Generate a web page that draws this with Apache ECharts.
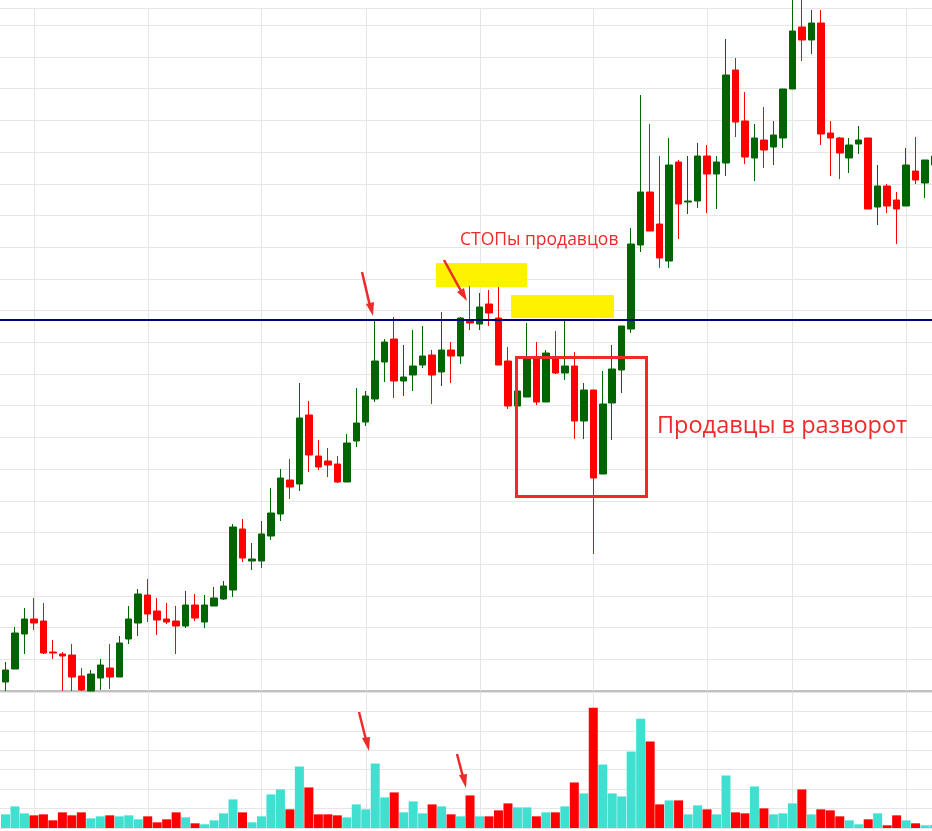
<!DOCTYPE html>
<html><head><meta charset="utf-8">
<script src="https://cdn.jsdelivr.net/npm/echarts@6/dist/echarts.min.js"></script>
<style>html,body{margin:0;padding:0;background:#fff}#c{width:932px;height:831px}</style>
</head><body><div id="c"></div>
<script>
// OHLC values (price units)
const opens  = [17,30,65,80,78,47,45,44,23,8,21,31,22,60,76,104,88,80,78,73,94,77,93,100,109,170,138,138,163,185,219,215,284,243,238,235,217,258,277,300,337,360,318,324,334,344,327,349,343,379,375,395,381,338,293,302,341,297,342,326,333,278,309,225,296,329,370,454,507,475,438,537,497,498,543,525,536,629,578,541,559,552,561,610,672,659,676,566,561,541,555,561,492,513,499,493,528,516,534];
const closes = [29,66,80,76,46,46,43,22,9,25,34,22,56,80,105,85,79,77,73,94,81,94,101,113,172,141,140,165,186,221,212,281,244,232,234,217,256,276,303,338,357,318,322,333,343,324,349,343,381,376,392,386,334,293,308,341,297,346,326,333,278,309,221,295,330,373,455,507,468,441,534,495,498,543,525,537,624,577,542,561,549,564,610,668,659,676,565,561,546,554,559,490,513,493,490,534,519,539,543];
const lows   = [8,30,45,69,45,40,8,8,8,8,9,10,22,55,63,77,64,75,45,71,78,71,93,99,102,137,129,131,159,178,200,208,227,229,222,216,217,252,273,297,317,301,303,308,331,295,313,316,335,369,369,373,334,290,293,302,294,297,325,319,260,260,145,225,259,306,366,447,468,431,431,460,485,491,486,490,523,562,535,518,531,534,551,610,638,645,554,523,520,526,545,490,474,486,455,493,515,501,530];
const highs  = [37,72,91,101,96,59,47,55,31,29,40,55,63,93,110,120,101,96,93,108,105,104,112,118,175,180,156,178,211,230,240,316,298,259,251,243,265,311,308,379,360,382,354,369,373,349,387,357,382,413,406,409,412,352,308,376,357,349,368,379,347,316,309,328,354,373,471,604,575,543,561,539,543,556,554,543,660,641,607,575,592,578,610,700,700,689,689,578,562,561,573,561,534,515,507,551,562,539,550];
const volumes = [13.7,21.7,14.7,12.7,13.7,7.7,15.7,12.7,15.7,9.7,11.7,12.7,11.7,12.7,8.7,11.7,5.7,8.7,15.7,10.7,4.7,3.7,7.7,14.7,28.7,15.7,5.7,11.7,33.7,38.7,18.7,61.7,40.7,13.7,13.7,12.7,10.7,23.7,18.7,64.7,30.7,35.7,15.7,26.7,14.7,23.7,21.7,13.7,11.7,32.7,11.7,11.7,17.7,24.7,20.7,20.7,11.7,15.7,15.7,21.7,45.7,34.7,120.7,63.7,34.7,31.7,76.7,109.7,86.7,23.7,27.7,27.7,13.7,22.7,18.7,13.7,52.7,15.7,14.7,41.7,19.7,13.7,14.7,24.7,38.7,13.7,18.7,17.7,11.7,7.7,3.7,8.7,14.7,2.7,12.7,7.7,4.7,2.7,3];
const vLineIdx = [3,15,27,38,50,62,74,83,95];
const levelPrice = 379;

const candleData = opens.map((o, i) => [i, o, closes[i], lows[i], highs[i]]);
const volData = volumes.map((v, i) => ({value: [i, v], itemStyle: {color: closes[i] >= opens[i] ? '#40e0d0' : '#ff0000'}}));
const gridLineStyle = {color: '#e6e6e6', width: 1, type: 'solid'};

function vlineSeries(ax) {
  return {
    type: 'custom', xAxisIndex: ax, yAxisIndex: ax, z: 1, silent: true, clip: false,
    data: vLineIdx,
    renderItem: function (params, api) {
      const x = Math.round(api.coord([api.value(0), 0])[0]) + 0.5;
      const cs = params.coordSys;
      return {type: 'line', shape: {x1: x, y1: cs.y, x2: x, y2: cs.y + cs.height}, style: {stroke: '#e6e6e6', lineWidth: 1}};
    },
    encode: {x: 0}
  };
}

const xBase = {type: 'value', min: -0.58, max: 97.73, axisLine: {show: false}, axisTick: {show: false}, axisLabel: {show: false}, splitLine: {show: false}};

const chart = echarts.init(document.getElementById('c'));
chart.setOption({
  animation: false,
  grid: [
    {left: 0, right: 0, top: 8, height: 683},
    {left: 0, right: 0, top: 692, height: 136}
  ],
  xAxis: [Object.assign({gridIndex: 0}, xBase), Object.assign({gridIndex: 1}, xBase)],
  yAxis: [
    {type: 'value', gridIndex: 0, min: 8, max: 691, interval: 31.7, axisLabel: {show: false}, axisLine: {show: false}, axisTick: {show: false}, splitLine: {lineStyle: gridLineStyle}},
    {type: 'value', gridIndex: 1, min: 0, max: 136.5, interval: 19.5, axisLabel: {show: false}, axisLine: {show: false}, axisTick: {show: false}, splitLine: {lineStyle: gridLineStyle}}
  ],
  series: [
    vlineSeries(0),
    vlineSeries(1),
    {type: 'candlestick', xAxisIndex: 0, yAxisIndex: 0, data: candleData, barWidth: 7, z: 3,
     encode: {x: 0, y: [1, 2, 3, 4]},
     itemStyle: {color: '#006400', color0: '#ff0000', borderColor: '#006400', borderColor0: '#ff0000', borderWidth: 1}},
    {type: 'line', xAxisIndex: 0, yAxisIndex: 0, data: [], z: 4,
     markLine: {silent: true, symbol: 'none', label: {show: false}, data: [{yAxis: levelPrice}], lineStyle: {color: '#000080', width: 2, type: 'solid'}}},
    {type: 'bar', xAxisIndex: 1, yAxisIndex: 1, data: volData, barWidth: 9, z: 3}
  ],
  graphic: [
    {type: 'line', shape: {x1: 0, y1: 691, x2: 932, y2: 691}, style: {stroke: '#c0c0c0', lineWidth: 2}, z: 1},
    {type: 'rect', shape: {x: 436, y: 263, width: 91, height: 24}, style: {fill: '#fff200'}, z: 2},
    {type: 'rect', shape: {x: 511, y: 295, width: 103, height: 23}, style: {fill: '#fff200'}, z: 2},
    {type: 'rect', shape: {x: 516.5, y: 357.5, width: 130, height: 139}, style: {fill: 'none', stroke: '#ee2a2a', lineWidth: 3}, z: 100},
    {type: 'text', left: 657, top: 414, style: {text: 'Продавцы в разворот', fill: '#ee2a2a', font: '23.5px "Open Sans", sans-serif'}, z: 100},
    {type: 'text', left: 460, top: 231, style: {text: 'СТОПы продавцов', fill: '#ee2a2a', font: '17.5px "Open Sans", sans-serif'}, z: 100},
    {type: 'line', shape: {x1: 362, y1: 272, x2: 370, y2: 306}, style: {stroke: '#ee2a2a', lineWidth: 2.5}, z: 100},
    {type: 'polygon', shape: {points: [[366,304],[374,302],[373,316]]}, style: {fill: '#ee2a2a'}, z: 100},
    {type: 'line', shape: {x1: 444, y1: 260, x2: 461, y2: 291}, style: {stroke: '#ee2a2a', lineWidth: 2.5}, z: 100},
    {type: 'polygon', shape: {points: [[457,292],[464,288],[467,301]]}, style: {fill: '#ee2a2a'}, z: 100},
    {type: 'line', shape: {x1: 359, y1: 712, x2: 366, y2: 740}, style: {stroke: '#ee2a2a', lineWidth: 2.5}, z: 100},
    {type: 'polygon', shape: {points: [[362,738],[370,737],[369,751]]}, style: {fill: '#ee2a2a'}, z: 100},
    {type: 'line', shape: {x1: 457, y1: 754, x2: 463, y2: 777}, style: {stroke: '#ee2a2a', lineWidth: 2.5}, z: 100},
    {type: 'polygon', shape: {points: [[459,775],[467,774],[466,788]]}, style: {fill: '#ee2a2a'}, z: 100}
  ]
});
</script></body></html>
